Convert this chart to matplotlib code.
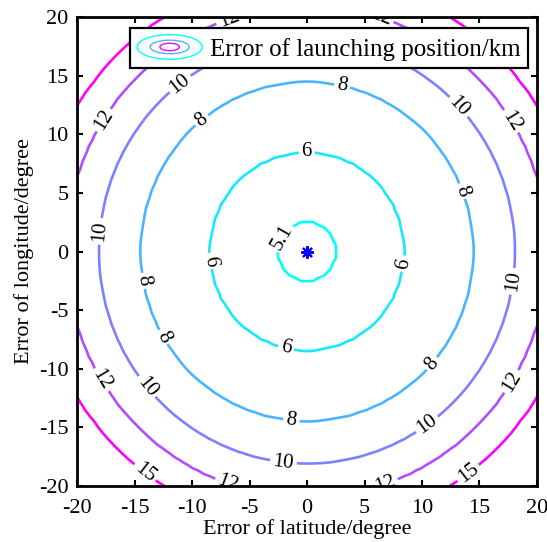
import numpy as np
import matplotlib
matplotlib.use('Agg')
import matplotlib.pyplot as plt
from matplotlib.legend_handler import HandlerBase
from matplotlib.patches import Ellipse
from matplotlib.lines import Line2D

plt.rcParams['font.family'] = ['Liberation Serif', 'DejaVu Serif']
plt.rcParams['axes.unicode_minus'] = False

# contour levels (km) and the radius (degree) where each one sits
levels = [5.1, 6, 8, 10, 12, 15]
level_radii = [2.6, 8.5, 14.5, 18.1, 21.0, 23.5]
center_error = 5.0
outer_radius, outer_error = 30.0, 19.0

# where the labels go (data coords)
label_pos = [(-6.7, 19.6), (6.3, 19.6), (-10.8, 14.0), (-17.3, 11.0), (-9.0, 11.0),
             (3.0, 13.8), (12.7, 11.9), (17.2, 10.8), (0.0, 8.2), (13.0, 5.0),
             (-17.7, 1.7), (-2.1, 1.2), (-9.0, -0.9), (8.7, -1.1), (-14.8, -2.6),
             (18.2, -2.6), (-13.0, -7.6), (10.9, -9.6), (-1.9, -8.6), (-18.1, -11.1),
             (17.8, -11.1), (-14.5, -12.0), (-1.4, -14.7), (10.7, -15.1), (-2.1, -18.3),
             (-14.5, -19.3), (6.8, -19.8), (14.2, -19.1), (-6.9, -19.8)]

# grid of lat/lon errors, error field built from the radii above
lat = np.arange(-20, 20.25, 0.5)
lon = np.arange(-20, 20.25, 0.5)
X, Y = np.meshgrid(lat, lon)
R = np.hypot(X, Y)
Z = np.interp(R, [0] + level_radii + [outer_radius],
              [center_error] + levels + [outer_error])

cmap = plt.get_cmap('cool')
norm = plt.Normalize(min(levels), max(levels))
colors = [cmap(norm(v)) for v in levels]

fig = plt.figure(figsize=(5.47, 5.42), dpi=100)
ax = fig.add_axes([0.1408, 0.1033, 0.8409, 0.8653])

cs = ax.contour(X, Y, Z, levels=levels, colors=colors, linewidths=1.9)
ax.clabel(cs, manual=label_pos, inline=True, fmt='%g', fontsize=15,
          colors='black', inline_spacing=3)

ax.plot([0], [0], marker=(8, 2, 0), color='blue', markersize=9, mew=1.5)

ax.set_xlim(-20, 20)
ax.set_ylim(-20, 20)
ax.set_xticks(np.arange(-20, 21, 5))
ax.set_yticks(np.arange(-20, 21, 5))
ax.tick_params(direction='in', top=True, right=True, length=4, width=1.5,
               labelsize=16)
ax.tick_params(axis='x', pad=9)
ax.tick_params(axis='y', pad=6)
for s in ax.spines.values():
    s.set_linewidth(2.0)
ax.set_xlabel('Error of latitude/degree', fontsize=16, labelpad=1)
ax.set_ylabel('Error of longitude/degree', fontsize=16, labelpad=4)


# legend icon: little nested ellipses like matlab's contour legend
class ContourIcon(HandlerBase):
    def create_artists(self, legend, orig_handle, xdescent, ydescent,
                       width, height, fontsize, trans):
        cx = width / 2 - xdescent
        cy = height / 2 - ydescent
        arts = []
        for w, h, c in [(1.0, 1.0, colors[0]), (0.6, 0.55, colors[2]),
                        (0.3, 0.3, colors[-1])]:
            e = Ellipse((cx, cy), width * w, height * 1.1 * h, fill=False,
                        edgecolor=c, lw=1.0, transform=trans)
            arts.append(e)
        return arts


handle = Line2D([], [])
leg = ax.legend([handle], ['Error of launching position/km'],
                handler_map={Line2D: ContourIcon()}, loc='upper right',
                bbox_to_anchor=(0.98, 0.976), borderaxespad=0, fontsize=18,
                handlelength=2.6, handleheight=1.0, handletextpad=0.3,
                borderpad=0.3, fancybox=False, framealpha=1, edgecolor='black')
leg.get_frame().set_linewidth(1.6)
leg.set_zorder(10)

fig.savefig('out.png', dpi=100)
